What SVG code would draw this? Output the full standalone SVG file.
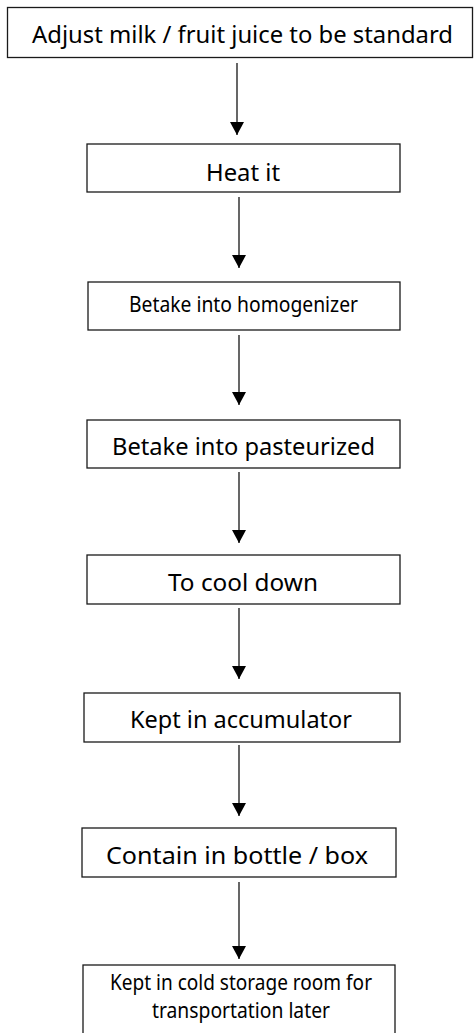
<svg xmlns="http://www.w3.org/2000/svg" width="474" height="1033" viewBox="0 0 474 1033">
<style>
.box{fill:#fff;stroke:#1a1a1a;stroke-width:1.3}
.t{font-family:"Noto Sans","DejaVu Sans",sans-serif;fill:#000;text-anchor:middle}
.big{font-size:24px}
.sm{font-size:21px}
.line{stroke:#000;stroke-width:1.2;fill:none}
</style>
<defs>
<marker id="ah" markerWidth="14" markerHeight="14" refX="13" refY="7" orient="auto" markerUnits="userSpaceOnUse">
<path d="M0,0 L13,7 L0,14 Z" fill="#000"/>
</marker>
</defs>
<g id="connectors">
<line class="line" x1="237" y1="63" x2="237" y2="135" marker-end="url(#ah)"/>
<line class="line" x1="239" y1="197" x2="239" y2="268" marker-end="url(#ah)"/>
<line class="line" x1="239" y1="335" x2="239" y2="405" marker-end="url(#ah)"/>
<line class="line" x1="239" y1="472" x2="239" y2="543" marker-end="url(#ah)"/>
<line class="line" x1="239" y1="608" x2="239" y2="679" marker-end="url(#ah)"/>
<line class="line" x1="239" y1="745" x2="239" y2="816" marker-end="url(#ah)"/>
<line class="line" x1="239" y1="882" x2="239" y2="959" marker-end="url(#ah)"/>
</g>
<g id="n1"><rect class="box" x="7.5" y="7.5" width="465" height="50"/><text class="t big" x="242.5" y="43" textLength="421" lengthAdjust="spacingAndGlyphs">Adjust milk / fruit juice to be standard</text></g>
<g id="n2"><rect class="box" x="87" y="144" width="313" height="48"/><text class="t big" x="243" y="181" textLength="74" lengthAdjust="spacingAndGlyphs">Heat it</text></g>
<g id="n3"><rect class="box" x="88" y="282" width="312" height="48"/><text class="t sm" x="243.5" y="312" textLength="229" lengthAdjust="spacingAndGlyphs">Betake into homogenizer</text></g>
<g id="n4"><rect class="box" x="87" y="420" width="313" height="48"/><text class="t big" x="243.5" y="455" textLength="263" lengthAdjust="spacingAndGlyphs">Betake into pasteurized</text></g>
<g id="n5"><rect class="box" x="87" y="555" width="313" height="49"/><text class="t big" x="243" y="591" textLength="150" lengthAdjust="spacingAndGlyphs">To cool down</text></g>
<g id="n6"><rect class="box" x="84" y="693" width="316" height="49"/><text class="t big" x="241" y="728" textLength="222" lengthAdjust="spacingAndGlyphs">Kept in accumulator</text></g>
<g id="n7"><rect class="box" x="82" y="828" width="314" height="49"/><text class="t big" x="237" y="864" textLength="262" lengthAdjust="spacingAndGlyphs">Contain in bottle / box</text></g>
<g id="n8"><rect class="box" x="83" y="965" width="312" height="80"/><text class="t sm" x="241" y="990" textLength="262" lengthAdjust="spacingAndGlyphs">Kept in cold storage room for</text><text class="t sm" x="241" y="1018" textLength="178" lengthAdjust="spacingAndGlyphs">transportation later</text></g>
</svg>
